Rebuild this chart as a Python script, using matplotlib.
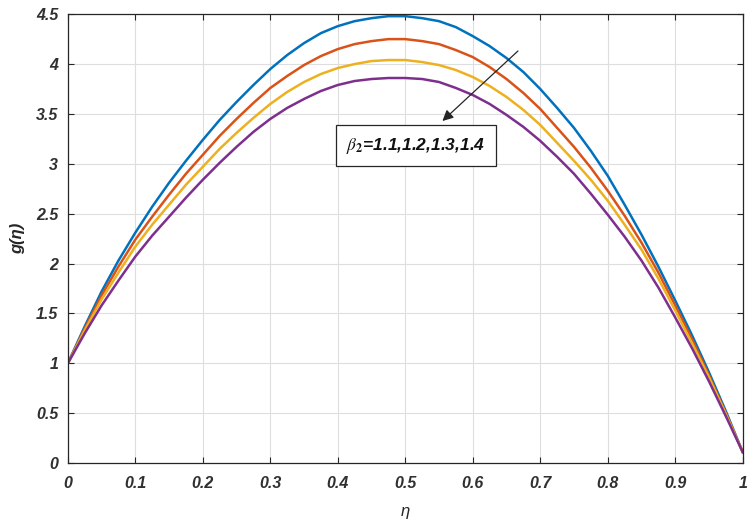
import numpy as np
import matplotlib
matplotlib.use('Agg')
import matplotlib.pyplot as plt

# values, eta from 0 to 1 in steps of 0.025
eta = [0, 0.025, 0.05, 0.075, 0.1, 0.125, 0.15, 0.175, 0.2, 0.225,
       0.25, 0.275, 0.3, 0.325, 0.35, 0.375, 0.4, 0.425, 0.45, 0.475,
       0.5, 0.525, 0.55, 0.575, 0.6, 0.625, 0.65, 0.675, 0.7, 0.725,
       0.75, 0.775, 0.8, 0.825, 0.85, 0.875, 0.9, 0.925, 0.95, 0.975, 1.0]
g_b11 = [1.00, 1.37, 1.72, 2.03, 2.31, 2.57, 2.81, 3.03, 3.24, 3.44,
         3.62, 3.79, 3.95, 4.09, 4.21, 4.31, 4.38, 4.43, 4.46, 4.48,
         4.48, 4.46, 4.43, 4.37, 4.28, 4.18, 4.06, 3.92, 3.75, 3.56,
         3.36, 3.13, 2.88, 2.59, 2.29, 1.97, 1.63, 1.28, 0.91, 0.52, 0.11]
g_b12 = [1.00, 1.35, 1.68, 1.97, 2.24, 2.47, 2.69, 2.90, 3.09, 3.28,
         3.45, 3.61, 3.76, 3.88, 3.99, 4.08, 4.15, 4.20, 4.23, 4.25,
         4.25, 4.23, 4.20, 4.14, 4.07, 3.97, 3.85, 3.71, 3.55, 3.36,
         3.17, 2.96, 2.73, 2.48, 2.21, 1.91, 1.58, 1.24, 0.88, 0.50, 0.11]
g_b13 = [1.00, 1.33, 1.64, 1.91, 2.17, 2.39, 2.59, 2.79, 2.97, 3.15,
         3.31, 3.46, 3.60, 3.72, 3.82, 3.90, 3.96, 4.00, 4.03, 4.04,
         4.04, 4.02, 3.99, 3.94, 3.87, 3.78, 3.67, 3.54, 3.39, 3.21,
         3.03, 2.84, 2.63, 2.39, 2.14, 1.85, 1.53, 1.20, 0.86, 0.49, 0.11]
g_b14 = [1.00, 1.30, 1.58, 1.83, 2.07, 2.28, 2.47, 2.66, 2.84, 3.01,
         3.17, 3.32, 3.45, 3.56, 3.65, 3.73, 3.79, 3.83, 3.85, 3.86,
         3.86, 3.85, 3.82, 3.76, 3.69, 3.60, 3.49, 3.37, 3.23, 3.07,
         2.90, 2.70, 2.49, 2.27, 2.03, 1.76, 1.46, 1.15, 0.82, 0.47, 0.11]
series = [g_b11, g_b12, g_b13, g_b14]
colors = ['#0072BD', '#D95319', '#EDB120', '#7E2F8E']

xticks = [0, 0.1, 0.2, 0.3, 0.4, 0.5, 0.6, 0.7, 0.8, 0.9, 1]
xticklabels = ['0', '0.1', '0.2', '0.3', '0.4', '0.5', '0.6', '0.7', '0.8', '0.9', '1']
yticks = [0, 0.5, 1, 1.5, 2, 2.5, 3, 3.5, 4, 4.5]
yticklabels = ['0', '0.5', '1', '1.5', '2', '2.5', '3', '3.5', '4', '4.5']

plt.rcParams['font.family'] = ['Liberation Sans', 'DejaVu Sans']
plt.rcParams['mathtext.fontset'] = 'stix'

fig = plt.figure(figsize=(7.54, 5.25), dpi=100)
ax = fig.add_axes([0.090, 0.118, 0.895, 0.855])

for g, c in zip(series, colors):
    ax.plot(eta, g, color=c, linewidth=1.8)

ax.set_xlim(0, 1)
ax.set_ylim(0, 4.5)
ax.set_xticks(xticks)
ax.set_xticklabels(xticklabels)
ax.set_yticks(yticks)
ax.set_yticklabels(yticklabels)
for lab in ax.get_xticklabels() + ax.get_yticklabels():
    lab.set_fontweight('bold')
    lab.set_fontstyle('italic')
    lab.set_fontsize(11.5)
    lab.set_color('#303030')

ax.tick_params(axis='x', pad=9)
ax.tick_params(axis='y', pad=7)
ax.tick_params(direction='in', top=True, right=True, length=4, width=0.8,
               color='#262626')
ax.grid(True, color='#dedede', linewidth=0.8)
ax.set_axisbelow(True)
for s in ax.spines.values():
    s.set_color('#262626')
    s.set_linewidth(0.9)

ax.set_xlabel('η', fontsize=12, fontstyle='italic', labelpad=10, color='#262626')
ax.set_ylabel('g(η)', fontsize=12, fontweight='bold', fontstyle='italic',
              labelpad=8, color='#262626')

ax.annotate('', xy=(0.552, 3.41), xytext=(0.67, 4.15),
            arrowprops=dict(arrowstyle='-|>', color='#262626', lw=0.9,
                            mutation_scale=16))
ax.text(0.516, 3.18, r'$\beta_\mathbf{2}$=1.1,1.2,1.3,1.4', fontsize=12.5,
        fontweight='bold', fontstyle='italic', ha='center', va='center',
        color='#111111',
        bbox=dict(boxstyle='square,pad=0.6', facecolor='white',
                  edgecolor='#262626', linewidth=0.9))

fig.savefig('out.png', dpi=100)
